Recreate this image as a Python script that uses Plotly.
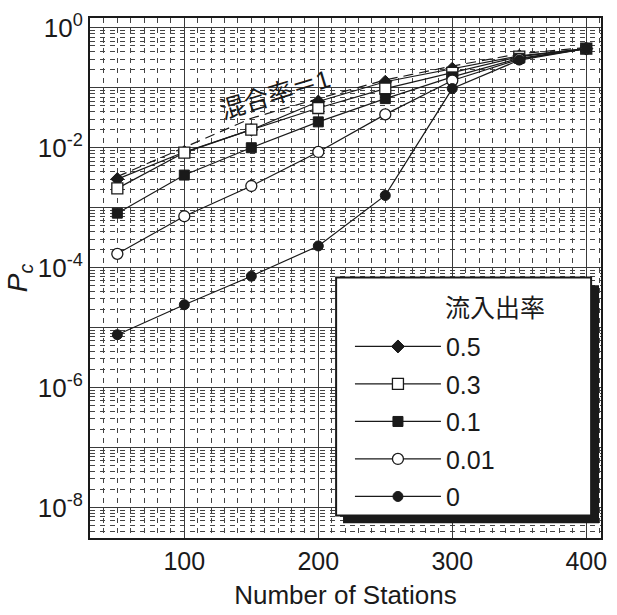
import plotly.graph_objects as go

# ---------------- data ----------------
stations = [50, 100, 150, 200, 250, 300, 350, 400]
p_05 = [3.0e-3, 8.5e-3, 0.020, 0.059, 0.126, 0.208, 0.34, 0.45]
p_03 = [2.1e-3, 8.3e-3, 0.020, 0.046, 0.097, 0.177, 0.33, 0.45]
p_01 = [8.1e-4, 3.5e-3, 0.010, 0.027, 0.066, 0.152, 0.31, 0.45]
p_001 = [1.7e-4, 7.2e-4, 2.3e-3, 8.5e-3, 0.036, 0.132, 0.30, 0.45]
p_0 = [7.6e-6, 2.4e-5, 7.2e-5, 2.3e-4, 1.6e-3, 0.097, 0.29, 0.45]
mix1 = [3.3e-3, 0.010, 0.031, 0.066, 0.135, 0.23, 0.37, 0.47]

series_names = ["0.5", "0.3", "0.1", "0.01", "0"]
series_vals = [p_05, p_03, p_01, p_001, p_0]
x_ticks = [100, 200, 300, 400]
y_tick_exps = [-8, -7, -6, -5, -4, -3, -2, -1, 0]

FONT = "Liberation Sans, Arial, Noto Sans CJK JP, sans-serif"
INK = "#1a1a1a"

markers = [
    dict(symbol="diamond", size=10, color=INK, line=dict(color=INK, width=1)),
    dict(symbol="square", size=11, color="white", line=dict(color=INK, width=1.3)),
    dict(symbol="square", size=10, color=INK, line=dict(color=INK, width=1)),
    dict(symbol="circle", size=11, color="white", line=dict(color=INK, width=1.3)),
    dict(symbol="circle", size=10, color=INK, line=dict(color=INK, width=1)),
]

fig = go.Figure()

# mixing ratio = 1 reference line (dashed)
fig.add_trace(go.Scatter(
    x=stations, y=mix1, mode="lines", showlegend=False,
    line=dict(color=INK, width=1.2, dash="10px,6px"), hoverinfo="skip",
))

for name, vals, mk in zip(series_names, series_vals, markers):
    fig.add_trace(go.Scatter(
        x=stations, y=vals, mode="lines+markers", name=name, legendgroup=name,
        line=dict(color=INK, width=1.2), marker=mk,
    ))

# ---------------- axes ----------------
minor_y = [m * 10.0 ** k for k in range(-9, 1) for m in range(2, 10)]
y_ticktext = [f"10<sup>{e}</sup>" if e % 2 == 0 else "" for e in y_tick_exps]

GRID_MAJOR = "#3a3a3a"
GRID_MINOR = "#444444"

fig.update_xaxes(
    range=[29.6, 411], tickmode="array", tickvals=x_ticks,
    ticktext=[str(v) for v in x_ticks], ticks="",
    showgrid=True, gridcolor=GRID_MAJOR, gridwidth=1.3,
    minor=dict(dtick=10, tick0=0, showgrid=True, gridcolor=GRID_MINOR,
               gridwidth=1, griddash="5px,5px", ticks=""),
    showline=True, linecolor=INK, linewidth=2, mirror=True,
    zeroline=False,
    tickfont=dict(family=FONT, size=25, color=INK),
    title=dict(text="Number of Stations", font=dict(family=FONT, size=26, color=INK),
               standoff=12),
)
fig.update_yaxes(
    type="log", range=[-8.51, 0.164], tickmode="array",
    tickvals=[10.0 ** e for e in y_tick_exps], ticktext=y_ticktext, ticks="",
    showgrid=True, gridcolor=GRID_MAJOR, gridwidth=1.3,
    minor=dict(tickmode="array", tickvals=minor_y, showgrid=True,
               gridcolor=GRID_MINOR, gridwidth=1, griddash="5px,5px", ticks=""),
    showline=True, linecolor=INK, linewidth=2, mirror=True,
    zeroline=False,
    tickfont=dict(family=FONT, size=26, color=INK),
    title=dict(text="<i>P</i><sub><i>c</i></sub>", font=dict(family=FONT, size=28, color=INK),
               standoff=2),
)

# label of the dashed line
fig.add_annotation(
    x=168, y=-1.10, xref="x", yref="y", text="混合率＝1", showarrow=False,
    textangle=-17, font=dict(family=FONT, size=25, color=INK),
)


# legend frame: shadow + white box
def px_x(p):
    return (p - 90) / 517


def px_y(p):
    return (543 - p) / 529


fig.add_shape(type="rect", xref="paper", yref="paper",
              x0=px_x(346), x1=px_x(605), y0=px_y(528), y1=px_y(286),
              fillcolor=INK, line=dict(width=0), layer="above")
fig.add_shape(type="rect", xref="paper", yref="paper",
              x0=px_x(339), x1=px_x(597), y0=px_y(520), y1=px_y(278),
              fillcolor="white", line=dict(color=INK, width=2), layer="above")
# legend title
fig.add_annotation(
    x=px_x(500), y=px_y(309), xref="paper", yref="paper", text="流入出率",
    xanchor="center", yanchor="middle",
    showarrow=False, font=dict(family=FONT, size=25, color=INK),
)

fig.update_layout(
    width=617, height=615,
    margin=dict(l=90, r=10, t=14, b=72),
    paper_bgcolor="white", plot_bgcolor="white",
    font=dict(family=FONT, color=INK),
    legend=dict(
        x=px_x(353), y=px_y(325), xanchor="left", yanchor="top",
        bgcolor="rgba(0,0,0,0)", borderwidth=0,
        font=dict(family=FONT, size=25, color=INK),
        itemwidth=86, tracegroupgap=2,
    ),
)

fig.write_html("out.html")
